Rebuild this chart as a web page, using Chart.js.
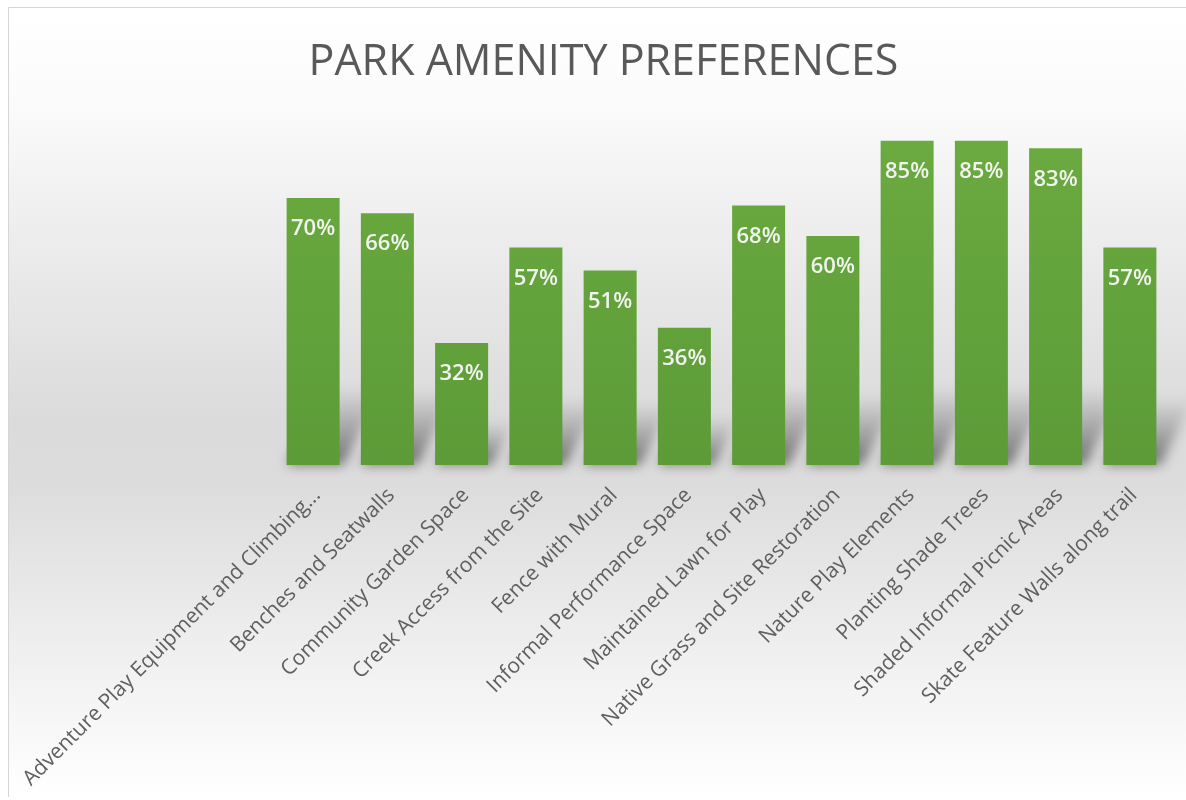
<!DOCTYPE html>
<html>
<head>
<meta charset="utf-8">
<script src="https://cdn.jsdelivr.net/npm/chart.js@4/dist/chart.umd.min.js"></script>
<style>
  html, body { margin: 0; padding: 0; background: #ffffff; }
  #wrap { position: absolute; left: 0; top: 0; width: 1186px; height: 800px; }
</style>
</head>
<body>
<div id="wrap"><canvas id="c" width="1186" height="800"></canvas></div>
<script>
const chartTitle = "PARK AMENITY PREFERENCES";
const categories = [
  "Adventure Play Equipment and Climbing...",
  "Benches and Seatwalls",
  "Community Garden Space",
  "Creek Access from the Site",
  "Fence with Mural",
  "Informal Performance Space",
  "Maintained Lawn for Play",
  "Native Grass and Site Restoration",
  "Nature Play Elements",
  "Planting Shade Trees",
  "Shaded Informal Picnic Areas",
  "Skate Feature Walls along trail"
];
const percentValues = [70, 66, 32, 57, 51, 36, 68, 60, 85, 85, 83, 57];

const backgroundPlugin = {
  id: 'bg',
  beforeDraw(chart) {
    const ctx = chart.ctx;
    const W = chart.width, H = chart.height;
    ctx.save();
    ctx.fillStyle = '#ffffff';
    ctx.fillRect(0, 0, W, H);
    const g = ctx.createLinearGradient(0, 8, 0, 797);
    g.addColorStop(0.00, '#ffffff');
    g.addColorStop(0.12, '#fbfbfb');
    g.addColorStop(0.30, '#ececec');
    g.addColorStop(0.52, '#dbdbdb');
    g.addColorStop(0.60, '#dcdcdc');
    g.addColorStop(0.78, '#ececec');
    g.addColorStop(0.96, '#fcfcfc');
    g.addColorStop(1.00, '#ffffff');
    ctx.fillStyle = g;
    ctx.fillRect(9, 8, W - 9, 789);
    ctx.strokeStyle = '#d6d6d6';
    ctx.lineWidth = 1;
    ctx.beginPath();
    ctx.moveTo(8.5, 797);
    ctx.lineTo(8.5, 7.5);
    ctx.lineTo(W, 7.5);
    ctx.stroke();
    ctx.restore();
  }
};

const shadowPlugin = {
  id: 'barShadow',
  beforeDatasetsDraw(chart) {
    const ctx = chart.ctx;
    const meta = chart.getDatasetMeta(0);
    ctx.save();
    ctx.filter = 'blur(6px)';
    meta.data.forEach(el => {
      const p = el.getProps(['x', 'y', 'base', 'width'], true);
      const h = p.base - p.y;
      const sh = Math.min(h * 0.25 + 14, 80);
      const dx = sh * 0.5;
      const left = p.x - p.width / 2, right = p.x + p.width / 2;
      const g = ctx.createLinearGradient(0, p.base, 0, p.base - sh);
      g.addColorStop(0, 'rgba(50,50,50,0.65)');
      g.addColorStop(1, 'rgba(90,90,90,0.0)');
      ctx.fillStyle = g;
      ctx.beginPath();
      ctx.moveTo(left, p.base);
      ctx.lineTo(right + 4, p.base);
      ctx.lineTo(right + 4 + dx, p.base - sh);
      ctx.lineTo(left + dx, p.base - sh);
      ctx.closePath();
      ctx.fill();
    });
    ctx.restore();
  }
};

const valueLabelPlugin = {
  id: 'valueLabels',
  afterDatasetsDraw(chart) {
    const ctx = chart.ctx;
    const meta = chart.getDatasetMeta(0);
    ctx.save();
    ctx.font = '600 22px "Open Sans"';
    ctx.fillStyle = '#f2f4ef';
    ctx.textAlign = 'center';
    ctx.textBaseline = 'middle';
    meta.data.forEach((el, i) => {
      ctx.fillText(percentValues[i] + '%', el.x, el.y + 31);
    });
    ctx.restore();
  }
};

function barGradient(context) {
  const chart = context.chart;
  const area = chart.chartArea;
  if (!area) return '#64a33b';
  const g = chart.ctx.createLinearGradient(0, area.top, 0, area.bottom);
  g.addColorStop(0, '#6bab40');
  g.addColorStop(1, '#5c9b37');
  return g;
}

new Chart(document.getElementById('c'), {
  type: 'bar',
  data: {
    labels: categories,
    datasets: [{
      data: percentValues,
      backgroundColor: barGradient,
      borderWidth: 0,
      categoryPercentage: 1.0,
      barPercentage: 0.714
    }]
  },
  options: {
    responsive: false,
    animation: false,
    events: [],
    layout: { padding: { left: 40, right: 19, top: 10, bottom: 0 } },
    plugins: {
      legend: { display: false },
      tooltip: { enabled: false },
      title: {
        display: true,
        text: chartTitle,
        color: '#595959',
        font: { family: '"Open Sans"', size: 43, weight: 400 },
        padding: { top: 27, bottom: 33 }
      }
    },
    scales: {
      x: {
        grid: { display: false },
        border: { display: false },
        ticks: {
          autoSkip: false,
          minRotation: 45,
          maxRotation: 45,
          padding: 10,
          labelOffset: 4,
          color: '#5f5f5f',
          font: { family: '"Open Sans"', size: 21 }
        },
        afterFit(s) { s.height = 335; s.paddingLeft = 0; s.paddingRight = 0; }
      },
      y: {
        min: 0,
        max: 90,
        grid: { display: false },
        border: { display: false },
        ticks: { display: false },
        afterFit(s) { s.width = 236; }
      }
    }
  },
  plugins: [backgroundPlugin, shadowPlugin, valueLabelPlugin]
});
</script>
</body>
</html>
